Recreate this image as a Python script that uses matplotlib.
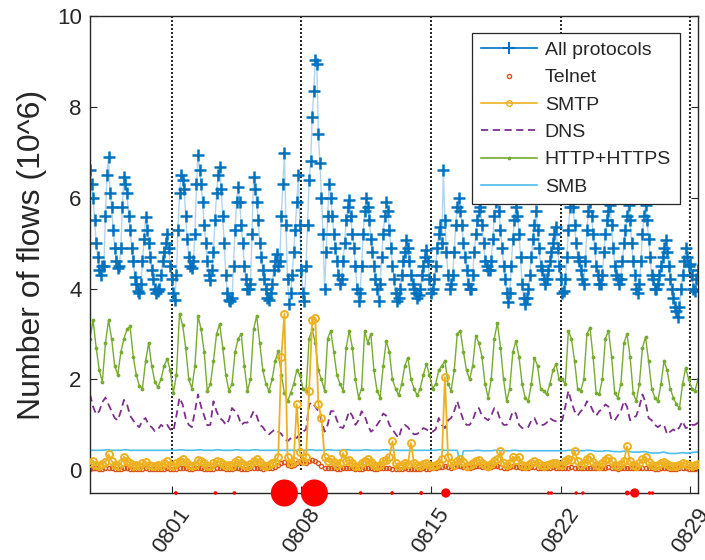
import numpy as np
import matplotlib
matplotlib.use("Agg")
import matplotlib.pyplot as plt
from matplotlib.lines import Line2D

plt.rcParams['font.family'] = ['Liberation Sans', 'DejaVu Sans']

# Total flows (millions), one sample every 2 hours.
# First sample 07-27 14:00, last sample 08-29 10:00.
# Rows: one day each, hours 00, 02, ..., 22.
all_protocols = [
    6.6, 6.3, 6.0, 5.5, 5.0,                                  # 0727 (14-22)
    4.7, 4.4, 4.3, 4.5, 4.5, 5.6, 6.5, 6.9, 6.1, 5.8, 5.3, 4.9,   # 0728
    4.6, 4.45, 4.5, 4.9, 5.8, 6.45, 6.3, 6.1, 5.6, 5.3, 4.9, 4.6,  # 0729
    4.25, 4.1, 3.95, 3.9, 4.1, 4.6, 5.1, 5.57, 5.3, 5.0, 4.7, 4.4,  # 0730
    4.2, 4.0, 3.9, 3.95, 4.0, 4.3, 4.6, 4.8, 5.0, 5.2, 4.9, 4.5,   # 0731
    4.2, 3.9, 3.75, 4.3, 5.3, 6.1, 6.5, 6.4, 6.2, 5.6, 5.1, 4.7,   # 0801
    4.5, 4.46, 4.6, 5.2, 6.3, 6.94, 6.6, 6.3, 5.9, 5.4, 5.0, 4.6,  # 0802
    4.3, 4.18, 4.4, 4.8, 5.5, 6.1, 6.5, 6.67, 6.2, 5.6, 5.0, 4.3,  # 0803
    3.9, 3.75, 3.73, 3.8, 4.5, 5.3, 5.9, 6.23, 5.9, 5.4, 5.0, 4.5,  # 0804
    4.2, 4.0, 4.0, 4.1, 5.2, 6.45, 6.2, 5.9, 5.5, 5.0, 4.7, 4.4,   # 0805
    4.2, 4.0, 3.8, 3.75, 3.9, 4.1, 4.4, 4.6, 4.77, 4.5, 4.6, 5.6,  # 0806
    6.3, 6.98, 5.4, 4.2, 3.67, 3.9, 4.3, 4.8, 5.3, 5.9, 6.5, 5.4,  # 0807
    4.4, 3.9, 3.73, 4.5, 5.4, 6.4, 6.8, 7.78, 8.34, 9.04, 8.95, 7.4,  # 0808
    6.76, 6.0, 5.2, 4.0, 4.8, 5.6, 6.3, 6.0, 5.6, 5.2, 4.9, 4.6,   # 0809
    4.3, 4.1, 4.2, 4.6, 5.0, 5.5, 5.8, 5.95, 5.6, 5.2, 4.9, 4.5,   # 0810
    4.0, 3.73, 3.9, 4.5, 5.2, 5.7, 6.0, 5.8, 5.5, 5.1, 4.8, 4.5,   # 0811
    4.2, 4.0, 3.73, 4.1, 4.7, 5.2, 5.6, 5.9, 5.7, 5.3, 4.9, 4.5,   # 0812
    4.2, 3.9, 3.73, 3.8, 4.0, 4.3, 4.6, 4.8, 5.06, 4.9, 4.6, 4.3,  # 0813
    4.1, 4.0, 3.9, 3.8, 3.85, 4.0, 4.3, 4.5, 4.7, 4.84, 4.6, 4.2,  # 0814
    3.9, 4.0, 4.2, 4.5, 4.9, 5.2, 5.35, 5.0, 6.6, 5.5, 4.8, 4.3,   # 0815
    4.0, 4.1, 4.3, 4.8, 5.4, 5.8, 6.0, 5.7, 5.4, 5.0, 4.7, 4.4,    # 0816
    4.1, 4.0, 4.0, 4.3, 4.8, 5.2, 5.5, 5.7, 5.8, 5.4, 5.0, 4.6,    # 0817
    4.5, 4.4, 4.4, 4.6, 5.1, 5.6, 5.9, 6.05, 5.7, 5.3, 4.9, 4.5,   # 0818
    4.2, 3.9, 3.7, 3.9, 4.5, 5.1, 5.5, 5.8, 5.6, 5.2, 4.7, 4.1,    # 0819
    3.8, 3.67, 3.8, 4.0, 4.3, 4.7, 5.1, 5.4, 5.7, 5.3, 4.9, 4.5,   # 0820
    4.4, 4.2, 4.1, 4.2, 4.4, 4.6, 4.8, 5.0, 5.2, 5.35, 4.9, 4.5,   # 0821
    4.2, 3.9, 3.95, 4.2, 4.7, 5.3, 5.8, 6.05, 5.8, 5.4, 5.0, 4.7,  # 0822
    4.6, 4.4, 4.2, 4.1, 4.6, 5.3, 5.7, 5.9, 5.6, 5.2, 4.9, 4.5,    # 0823
    4.3, 4.1, 4.1, 4.3, 4.8, 5.2, 5.5, 5.7, 5.85, 5.4, 4.9, 4.5,   # 0824
    4.3, 4.2, 4.1, 4.2, 4.6, 5.0, 5.3, 5.6, 5.85, 5.5, 5.0, 4.6,   # 0825
    4.3, 4.0, 3.9, 4.1, 4.6, 5.2, 5.6, 5.85, 5.5, 5.1, 4.7, 4.3,   # 0826
    4.2, 4.0, 4.0, 4.1, 4.3, 4.5, 4.7, 4.9, 5.06, 4.8, 4.5, 4.2,   # 0827
    4.0, 3.8, 3.6, 3.5, 3.37, 3.6, 4.0, 4.3, 4.6, 4.9, 4.7, 4.5,   # 0828
    4.55, 4.3, 4.0, 3.95, 4.2, 4.4,                            # 0829 (00-10)
]

# Per-protocol flows (millions), one sample every 4 hours.
# First sample 07-27 14:00, last sample 08-29 10:00.
# Rows: one day each, hours 02, 06, 10, 14, 18, 22.
telnet = [
    0.03, 0.05, 0.04,
    0.03, 0.02, 0.04, 0.05, 0.04, 0.03,
    0.02, 0.03, 0.05, 0.04, 0.03, 0.02,
    0.03, 0.02, 0.03, 0.04, 0.03, 0.02,
    0.02, 0.03, 0.02, 0.03, 0.04, 0.03,
    0.02, 0.03, 0.05, 0.06, 0.04, 0.03,
    0.03, 0.04, 0.05, 0.04, 0.03, 0.02,
    0.03, 0.02, 0.04, 0.05, 0.04, 0.03,
    0.02, 0.03, 0.05, 0.04, 0.03, 0.03,
    0.03, 0.04, 0.06, 0.05, 0.04, 0.03,
    0.04, 0.05, 0.06, 0.08, 0.12, 0.15,
    0.18, 0.12, 0.10, 0.12, 0.15, 0.20,
    0.18, 0.15, 0.20, 0.22, 0.20, 0.15,
    0.10, 0.06, 0.05, 0.04, 0.04, 0.03,
    0.03, 0.04, 0.05, 0.05, 0.04, 0.03,
    0.03, 0.03, 0.05, 0.06, 0.04, 0.03,
    0.03, 0.04, 0.05, 0.05, 0.04, 0.03,
    0.03, 0.02, 0.03, 0.04, 0.03, 0.03,
    0.02, 0.03, 0.03, 0.04, 0.03, 0.03,
    0.04, 0.05, 0.07, 0.08, 0.10, 0.08,
    0.06, 0.07, 0.09, 0.10, 0.08, 0.06,
    0.06, 0.07, 0.09, 0.10, 0.08, 0.07,
    0.06, 0.08, 0.10, 0.09, 0.08, 0.06,
    0.06, 0.07, 0.09, 0.08, 0.07, 0.06,
    0.05, 0.06, 0.07, 0.08, 0.06, 0.05,
    0.05, 0.05, 0.06, 0.07, 0.06, 0.05,
    0.04, 0.05, 0.06, 0.07, 0.05, 0.04,
    0.04, 0.05, 0.06, 0.06, 0.05, 0.04,
    0.04, 0.04, 0.06, 0.07, 0.05, 0.04,
    0.03, 0.04, 0.05, 0.06, 0.05, 0.04,
    0.04, 0.04, 0.05, 0.06, 0.05, 0.04,
    0.03, 0.03, 0.04, 0.05, 0.04, 0.03,
    0.03, 0.03, 0.04, 0.04, 0.04, 0.03,
    0.03, 0.03, 0.04,
]

smtp = [
    0.15, 0.20, 0.12,
    0.10, 0.14, 0.18, 0.35, 0.20, 0.12,
    0.10, 0.15, 0.30, 0.20, 0.15, 0.10,
    0.12, 0.10, 0.15, 0.18, 0.12, 0.10,
    0.10, 0.12, 0.10, 0.15, 0.20, 0.12,
    0.10, 0.15, 0.20, 0.25, 0.18, 0.12,
    0.10, 0.12, 0.22, 0.20, 0.15, 0.10,
    0.10, 0.15, 0.20, 0.18, 0.14, 0.10,
    0.12, 0.10, 0.18, 0.22, 0.15, 0.12,
    0.10, 0.14, 0.20, 0.24, 0.18, 0.12,
    0.10, 0.12, 0.15, 0.18, 0.30, 2.50,
    3.45, 0.30, 0.15, 0.20, 1.45, 0.40,
    0.20, 0.30, 1.75, 3.30, 3.35, 1.45,
    1.15, 0.30, 0.20, 0.25, 0.18, 0.12,
    0.15, 0.38, 0.20, 0.22, 0.15, 0.10,
    0.10, 0.15, 0.20, 0.25, 0.18, 0.12,
    0.10, 0.12, 0.20, 0.22, 0.30, 0.64,
    0.15, 0.10, 0.12, 0.15, 0.14, 0.60,
    0.15, 0.12, 0.10, 0.14, 0.15, 0.12,
    0.10, 0.12, 0.15, 0.25, 2.05, 0.30,
    0.15, 0.12, 0.20, 0.25, 0.18, 0.10,
    0.12, 0.15, 0.20, 0.22, 0.16, 0.12,
    0.10, 0.14, 0.20, 0.24, 0.42, 0.15,
    0.12, 0.15, 0.30, 0.22, 0.30, 0.12,
    0.10, 0.12, 0.15, 0.20, 0.15, 0.12,
    0.10, 0.12, 0.14, 0.16, 0.15, 0.12,
    0.12, 0.20, 0.25, 0.22, 0.42, 0.20,
    0.12, 0.15, 0.25, 0.30, 0.18, 0.12,
    0.10, 0.15, 0.22, 0.28, 0.20, 0.12,
    0.10, 0.14, 0.20, 0.53, 0.20, 0.12,
    0.10, 0.15, 0.25, 0.30, 0.18, 0.12,
    0.10, 0.12, 0.15, 0.18, 0.14, 0.10,
    0.10, 0.10, 0.12, 0.15, 0.14, 0.12,
    0.10, 0.12, 0.14,
]

dns = [
    1.67, 1.40, 1.23,
    1.30, 1.50, 1.60, 1.45, 1.30, 1.15,
    1.10, 1.30, 1.55, 1.45, 1.20, 1.10,
    1.00, 0.95, 1.10, 1.15, 1.00, 0.95,
    0.86, 0.90, 1.00, 0.95, 1.00, 0.90,
    0.86, 1.20, 1.60, 1.45, 1.15, 1.00,
    0.95, 1.30, 1.67, 1.40, 1.20, 0.99,
    1.00, 1.52, 1.30, 1.15, 1.10, 1.00,
    1.10, 1.37, 1.30, 1.20, 1.00, 1.05,
    1.05, 1.15, 1.30, 1.20, 1.00, 0.95,
    0.85, 0.79, 0.85, 0.90, 0.85, 0.80,
    0.70, 0.64, 0.70, 0.75, 0.71, 0.80,
    0.85, 0.90, 1.45, 1.50, 1.40, 1.30,
    1.10, 0.85, 1.00, 1.30, 1.30, 1.10,
    0.95, 0.93, 1.10, 1.30, 1.20, 1.00,
    1.10, 1.30, 1.20, 1.00, 0.85, 0.90,
    1.00, 1.10, 1.25, 1.20, 1.00, 0.90,
    0.80, 0.71, 0.93, 1.00, 0.95, 0.85,
    0.79, 0.80, 0.85, 0.93, 0.90, 0.85,
    0.85, 0.90, 1.15, 1.00, 0.93, 1.10,
    1.15, 1.30, 1.52, 1.30, 1.10, 1.00,
    1.00, 1.10, 1.30, 1.37, 1.20, 1.15,
    1.10, 1.20, 1.37, 1.30, 1.10, 1.00,
    1.00, 1.10, 1.30, 1.25, 1.00, 0.93,
    0.93, 0.95, 1.10, 1.15, 1.00, 1.00,
    1.00, 1.05, 1.15, 1.10, 1.08, 1.08,
    1.10, 1.40, 1.75, 1.50, 1.30, 1.20,
    1.30, 1.35, 1.52, 1.45, 1.30, 1.20,
    1.30, 1.35, 1.45, 1.40, 1.10, 1.10,
    1.20, 1.30, 1.52, 1.40, 1.10, 1.15,
    1.20, 1.40, 1.67, 1.50, 1.15, 1.10,
    1.00, 0.95, 1.00, 1.00, 0.79, 0.85,
    0.90, 0.85, 0.95, 1.08, 0.93, 0.95,
    1.00, 1.00, 1.05,
]

http_https = [
    2.90, 3.30, 2.70,
    2.20, 1.95, 2.80, 3.30, 2.90, 2.30,
    2.10, 2.60, 2.90, 3.10, 3.17, 2.50,
    2.10, 1.85, 1.80, 2.40, 2.80, 2.30,
    1.95, 1.83, 2.00, 2.30, 2.45, 2.20,
    1.70, 2.10, 3.45, 3.20, 2.70, 2.00,
    1.80, 2.30, 3.40, 3.10, 2.60, 1.75,
    1.90, 2.40, 3.00, 3.22, 2.70, 2.10,
    1.75, 1.90, 2.60, 2.90, 3.00, 2.30,
    1.75, 2.00, 3.10, 3.40, 2.80, 2.20,
    1.90, 1.75, 2.00, 2.40, 2.63, 2.10,
    1.70, 1.52, 1.70, 1.90, 2.20, 2.10,
    1.80, 1.75, 2.90, 3.10, 2.80, 2.20,
    2.00, 1.75, 2.90, 3.07, 2.60, 2.10,
    1.90, 1.75, 2.70, 3.07, 2.70, 2.00,
    1.60, 1.80, 3.07, 2.80, 3.00, 2.20,
    1.75, 1.60, 2.30, 2.85, 2.60, 2.00,
    1.80, 1.65, 1.90, 2.30, 2.48, 2.00,
    1.80, 1.65, 1.80, 2.10, 2.34, 2.10,
    1.80, 1.90, 2.20, 2.30, 2.41, 1.90,
    1.75, 2.20, 3.00, 3.07, 2.60, 2.20,
    2.00, 2.30, 2.96, 2.80, 2.50, 1.90,
    1.60, 2.00, 2.90, 3.25, 2.70, 2.00,
    1.52, 1.80, 2.60, 2.85, 2.50, 1.90,
    1.60, 1.52, 1.90, 2.48, 2.30, 1.80,
    1.75, 1.67, 1.90, 2.20, 2.34, 2.00,
    2.00, 1.90, 3.07, 2.90, 2.40, 1.80,
    1.75, 2.00, 3.00, 3.14, 2.50, 1.70,
    1.67, 2.00, 2.90, 3.07, 2.50, 1.70,
    1.60, 1.90, 2.80, 3.00, 2.50, 1.70,
    1.52, 1.90, 2.70, 2.93, 2.40, 1.80,
    1.60, 1.52, 1.90, 2.41, 2.20, 1.80,
    1.60, 1.45, 1.37, 1.90, 2.26, 2.00,
    1.80, 1.75, 2.00,
]

smb = [
    0.44, 0.44, 0.44,
    0.44, 0.44, 0.45, 0.45, 0.44, 0.44,
    0.44, 0.44, 0.45, 0.45, 0.44, 0.44,
    0.44, 0.44, 0.44, 0.44, 0.44, 0.44,
    0.44, 0.44, 0.44, 0.44, 0.44, 0.44,
    0.44, 0.44, 0.45, 0.45, 0.44, 0.44,
    0.44, 0.44, 0.45, 0.45, 0.44, 0.44,
    0.44, 0.44, 0.45, 0.45, 0.44, 0.44,
    0.44, 0.44, 0.45, 0.45, 0.44, 0.44,
    0.44, 0.44, 0.45, 0.45, 0.44, 0.44,
    0.44, 0.44, 0.44, 0.44, 0.44, 0.44,
    0.44, 0.44, 0.44, 0.44, 0.44, 0.44,
    0.44, 0.44, 0.45, 0.45, 0.44, 0.44,
    0.44, 0.44, 0.45, 0.45, 0.44, 0.44,
    0.44, 0.44, 0.45, 0.45, 0.44, 0.44,
    0.44, 0.44, 0.45, 0.45, 0.44, 0.44,
    0.44, 0.44, 0.45, 0.45, 0.44, 0.44,
    0.44, 0.44, 0.44, 0.44, 0.44, 0.44,
    0.44, 0.44, 0.44, 0.44, 0.44, 0.44,
    0.44, 0.44, 0.45, 0.45, 0.44, 0.44,
    0.44, 0.44, 0.44, 0.13, 0.43, 0.43,
    0.43, 0.43, 0.44, 0.44, 0.43, 0.43,
    0.43, 0.43, 0.44, 0.44, 0.43, 0.43,
    0.43, 0.43, 0.44, 0.44, 0.43, 0.43,
    0.43, 0.43, 0.43, 0.43, 0.43, 0.43,
    0.43, 0.43, 0.43, 0.43, 0.43, 0.43,
    0.43, 0.43, 0.44, 0.44, 0.43, 0.43,
    0.43, 0.43, 0.44, 0.44, 0.43, 0.42,
    0.42, 0.42, 0.43, 0.43, 0.42, 0.41,
    0.41, 0.41, 0.42, 0.42, 0.41, 0.40,
    0.40, 0.40, 0.41, 0.41, 0.39, 0.38,
    0.38, 0.38, 0.39, 0.40, 0.38, 0.37,
    0.37, 0.37, 0.38, 0.39, 0.38, 0.38,
    0.39, 0.40, 0.40,
]

# Flagged events on the time axis: day since 08-01 and marker area
event_days = [0.22, 2.36, 3.38, 6.08, 7.70, 10.2, 11.9, 13.47, 14.8,
              20.35, 20.5, 21.84, 22.2, 24.6, 25.0, 25.8, 25.96]
event_sizes = [7, 7, 7, 380, 380, 7, 7, 8, 45,
               6, 6, 6, 6, 12, 45, 6, 6]

tick_days = [0, 7, 14, 21, 28]
tick_labels = ['0801', '0808', '0815', '0822', '0829']

t0 = -5 + 14 / 24          # 07-27 14:00, in days since 08-01 00:00
t_all = t0 + (2 / 24) * np.arange(len(all_protocols))
t = t0 + (4 / 24) * np.arange(len(http_https))

c_all = '#0072BD'
c_telnet = '#D95319'
c_smtp = '#EDB120'
c_dns = '#7E2F8E'
c_http = '#77AC30'
c_smb = '#4DBEEE'
ink = '#262626'

fig = plt.figure(figsize=(7.05, 5.6), dpi=100)
ax = fig.add_axes([90 / 705, 67 / 560, 608 / 705, 477 / 560])

ax.plot(t_all, all_protocols, color=c_all, lw=1.0, alpha=0.3, zorder=2)
ax.plot(t_all, all_protocols, ls='none', marker='+', ms=9, mew=1.8,
        color=c_all, zorder=2.1)
ax.plot(t, telnet, ls='none', marker='o', ms=3, mfc='none', mew=1.0,
        color=c_telnet, zorder=2.2)
ax.plot(t, dns, color=c_dns, lw=1.3, ls=(0, (4, 2.5)), zorder=2.3)
ax.plot(t, http_https, color=c_http, lw=1.0, marker='.', ms=3.5, zorder=2.4)
ax.plot(t, smb, color=c_smb, lw=1.2, zorder=2.5)
ax.plot(t, smtp, color=c_smtp, lw=1.3, marker='o', ms=5, mfc='none',
        mew=1.4, zorder=2.6)

ax.vlines(tick_days, 0, 10, colors='k', linestyles=(0, (1.2, 1.2)), lw=1.2,
          zorder=1.5)

ax.scatter(event_days, np.full(len(event_days), -0.5), s=event_sizes,
           color='#FF0000', edgecolors='none', clip_on=False, zorder=6)

ax.set_xlim(t0, t_all[-1])
ax.set_ylim(-0.5, 10)
ax.set_yticks([0, 2, 4, 6, 8, 10])
ax.set_xticks(tick_days)
ax.set_xticklabels(tick_labels, rotation=55, ha='center')
ax.tick_params(direction='in', length=5, width=0.8, colors=ink,
               labelsize=16, top=False, right=True)
ax.tick_params(axis='x', pad=8)
ax.tick_params(axis='y', pad=6)
for s in ax.spines.values():
    s.set_color(ink)
    s.set_linewidth(1.0)

ax.set_ylabel('Number of flows (10^6)', fontsize=23, color=ink, labelpad=7)

handles = [
    Line2D([], [], color=c_all, lw=1.2, marker='+', ms=9, mew=1.5),
    Line2D([], [], color=c_telnet, ls='none', marker='o', ms=3, mfc='none'),
    Line2D([], [], color=c_smtp, lw=1.2, marker='o', ms=4, mfc='none'),
    Line2D([], [], color=c_dns, lw=1.3, ls=(0, (4, 2.5))),
    Line2D([], [], color=c_http, lw=1.2, marker='.', ms=3.5),
    Line2D([], [], color=c_smb, lw=1.2),
]
labels = ['All protocols', 'Telnet', 'SMTP', 'DNS', 'HTTP+HTTPS', 'SMB']
leg = ax.legend(handles, labels, loc='upper right',
                bbox_to_anchor=(0.970, 0.965), borderaxespad=0,
                fontsize=14, handlelength=2.9, handletextpad=0.4,
                labelspacing=0.5, borderpad=0.45, fancybox=False,
                framealpha=1, edgecolor=ink, labelcolor=ink)
leg.get_frame().set_linewidth(0.9)
leg.set_zorder(10)

fig.savefig('out.png', dpi=100)
